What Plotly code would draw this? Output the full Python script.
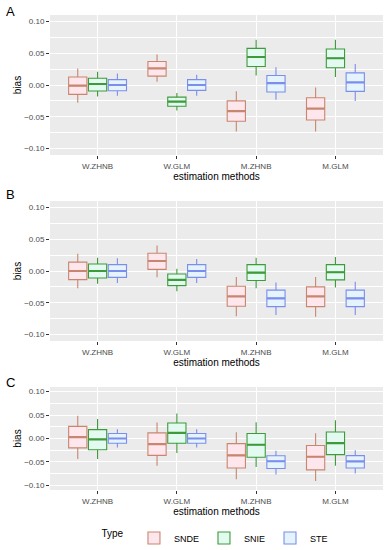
import plotly.graph_objects as go

categories = ["W.ZHNB", "W.GLM", "M.ZHNB", "M.GLM"]
types = ["SNDE", "SNIE", "STE"]

# Panel A stats: lower whisker, q1, median, q3, upper whisker
A_SNDE_low = [-0.028, 0.005, -0.073, -0.073]
A_SNDE_q1 = [-0.0147, 0.014, -0.057, -0.055]
A_SNDE_med = [-0.001, 0.026, -0.041, -0.037]
A_SNDE_q3 = [0.0126, 0.037, -0.025, -0.020]
A_SNDE_up = [0.026, 0.048, -0.010, -0.004]

A_SNIE_low = [-0.018, -0.040, 0.015, 0.0126]
A_SNIE_q1 = [-0.0094, -0.0335, 0.029, 0.027]
A_SNIE_med = [0.0016, -0.026, 0.044, 0.042]
A_SNIE_q3 = [0.0105, -0.019, 0.0576, 0.0565]
A_SNIE_up = [0.021, -0.0126, 0.071, 0.071]

A_STE_low = [-0.017, -0.017, -0.023, -0.025]
A_STE_q1 = [-0.009, -0.0084, -0.011, -0.010]
A_STE_med = [0.0, 0.0, 0.003, 0.004]
A_STE_q3 = [0.0084, 0.0084, 0.015, 0.019]
A_STE_up = [0.018, 0.016, 0.028, 0.033]

# Panel B
B_SNDE_low = [-0.027, -0.010, -0.071, -0.072]
B_SNDE_q1 = [-0.0136, 0.0026, -0.0555, -0.056]
B_SNDE_med = [0.0, 0.0157, -0.040, -0.040]
B_SNDE_q3 = [0.014, 0.028, -0.024, -0.025]
B_SNDE_up = [0.027, 0.040, -0.0094, -0.0094]

B_SNIE_low = [-0.020, -0.032, -0.027, -0.026]
B_SNIE_q1 = [-0.011, -0.023, -0.015, -0.014]
B_SNIE_med = [0.0, -0.014, -0.0026, -0.002]
B_SNIE_q3 = [0.011, -0.0047, 0.010, 0.010]
B_SNIE_up = [0.021, 0.0037, 0.021, 0.022]

B_STE_low = [-0.019, -0.019, -0.069, -0.069]
B_STE_q1 = [-0.010, -0.010, -0.056, -0.056]
B_STE_med = [0.0, 0.0, -0.043, -0.043]
B_STE_q3 = [0.010, 0.010, -0.030, -0.030]
B_STE_up = [0.020, 0.019, -0.018, -0.017]

# Panel C
C_SNDE_low = [-0.044, -0.058, -0.087, -0.091]
C_SNDE_q1 = [-0.020, -0.036, -0.063, -0.067]
C_SNDE_med = [0.003, -0.012, -0.036, -0.039]
C_SNDE_q3 = [0.026, 0.012, -0.011, -0.015]
C_SNDE_up = [0.0486, 0.034, 0.0134, 0.011]

C_SNIE_low = [-0.044, -0.031, -0.061, -0.058]
C_SNIE_q1 = [-0.024, -0.010, -0.040, -0.0345]
C_SNIE_med = [-0.002, 0.012, -0.0134, -0.010]
C_SNIE_q3 = [0.019, 0.033, 0.0106, 0.014]
C_SNIE_up = [0.0415, 0.0535, 0.0345, 0.039]

C_STE_low = [-0.019, -0.019, -0.077, -0.075]
C_STE_q1 = [-0.010, -0.010, -0.064, -0.063]
C_STE_med = [0.0, 0.0, -0.0486, -0.049]
C_STE_q3 = [0.0106, 0.0106, -0.037, -0.0366]
C_STE_up = [0.020, 0.020, -0.026, -0.025]

y_ticks = [-0.10, -0.05, 0.00, 0.05, 0.10]
y_tick_labels = ["\u22120.10", "\u22120.05", "0.00", "0.05", "0.10"]
panel_labels = ["A", "B", "C"]

panels = [
    {
        "SNDE": (A_SNDE_low, A_SNDE_q1, A_SNDE_med, A_SNDE_q3, A_SNDE_up),
        "SNIE": (A_SNIE_low, A_SNIE_q1, A_SNIE_med, A_SNIE_q3, A_SNIE_up),
        "STE": (A_STE_low, A_STE_q1, A_STE_med, A_STE_q3, A_STE_up),
    },
    {
        "SNDE": (B_SNDE_low, B_SNDE_q1, B_SNDE_med, B_SNDE_q3, B_SNDE_up),
        "SNIE": (B_SNIE_low, B_SNIE_q1, B_SNIE_med, B_SNIE_q3, B_SNIE_up),
        "STE": (B_STE_low, B_STE_q1, B_STE_med, B_STE_q3, B_STE_up),
    },
    {
        "SNDE": (C_SNDE_low, C_SNDE_q1, C_SNDE_med, C_SNDE_q3, C_SNDE_up),
        "SNIE": (C_SNIE_low, C_SNIE_q1, C_SNIE_med, C_SNIE_q3, C_SNIE_up),
        "STE": (C_STE_low, C_STE_q1, C_STE_med, C_STE_q3, C_STE_up),
    },
]

line_colors = {"SNDE": "#C9866F", "SNIE": "#3E9A3A", "STE": "#7B8EEB"}
fill_colors = {"SNDE": "#FDE6EC", "SNIE": "#E2FAEF", "STE": "#E5F3FC"}
dodge = {"SNDE": -0.25, "SNIE": 0.0, "STE": 0.25}
BOX_W = 0.23

W, H = 387, 550
x0, x1 = 50 / W, 383 / W
panel_px = [(15, 155), (201, 341), (387, 490)]
label_px = [11, 195, 382]

FONT = "Liberation Sans, Arial, sans-serif"

fig = go.Figure()
for i, panel in enumerate(panels):
    suffix = "" if i == 0 else str(i + 1)
    for t in types:
        low, q1, med, q3, up = panel[t]
        xs = [k + dodge[t] for k in range(len(categories))]
        fig.add_trace(go.Box(
            x=xs, lowerfence=low, q1=q1, median=med, q3=q3, upperfence=up,
            width=BOX_W,
            name=t, legendgroup=t, showlegend=(i == 0),
            line=dict(color=line_colors[t], width=1.1),
            fillcolor=fill_colors[t], whiskerwidth=0,
            boxpoints=False, hoverinfo="skip",
            xaxis="x" + suffix, yaxis="y" + suffix,
        ))
        # thicker median bar (ggplot draws medians heavier)
        fig.add_trace(go.Box(
            x=xs, lowerfence=med, q1=med, median=med, q3=med, upperfence=med,
            width=BOX_W, name=t, legendgroup=t, showlegend=False,
            line=dict(color=line_colors[t], width=2.2),
            fillcolor=line_colors[t], whiskerwidth=0,
            boxpoints=False, hoverinfo="skip",
            xaxis="x" + suffix, yaxis="y" + suffix,
        ))

layout = dict(
    width=W, height=H, autosize=False,
    margin=dict(l=0, r=0, t=0, b=0, autoexpand=False),
    paper_bgcolor="white", plot_bgcolor="#EBEBEB",
    boxmode="overlay",
    font=dict(family=FONT, color="black"),
    showlegend=True,
    legend=dict(
        orientation="h", x=216.5 / W, xanchor="center", y=1 - 538 / H, yanchor="middle",
        title=dict(text="Type ", side="left", font=dict(size=10, color="black")),
        font=dict(size=9, color="black"), itemwidth=30, bgcolor="rgba(0,0,0,0)",
        itemclick=False, itemdoubleclick=False,
    ),
)
annotations = []
for i, (top, bot) in enumerate(panel_px):
    suffix = "" if i == 0 else str(i + 1)
    layout["xaxis" + suffix] = dict(
        domain=[x0, x1], anchor="y" + suffix,
        range=[-0.6, 3.6], tickvals=list(range(len(categories))), ticktext=categories,
        showgrid=True, gridcolor="white", gridwidth=1.1,
        zeroline=False, showline=False,
        ticks="outside", ticklen=3, tickcolor="#333333", tickwidth=1,
        tickfont=dict(size=8, color="#4D4D4D", family=FONT),
        title=dict(text="estimation methods", font=dict(size=10, color="black", family=FONT), standoff=0),
        automargin=False, fixedrange=True,
    )
    layout["yaxis" + suffix] = dict(
        domain=[1 - bot / H, 1 - top / H], anchor="x" + suffix,
        range=[-0.11, 0.11], tickvals=y_ticks, ticktext=y_tick_labels,
        showgrid=True, gridcolor="white", gridwidth=1.1, zeroline=False, showline=False,
        ticks="outside", ticklen=3, tickcolor="#333333", tickwidth=1,
        tickfont=dict(size=8, color="#4D4D4D", family=FONT),
        minor=dict(dtick=0.025, tick0=0, showgrid=True, gridcolor="white", gridwidth=0.5, ticks=""),
        title=dict(text="bias", font=dict(size=10, color="black", family=FONT), standoff=0),
        automargin=False, fixedrange=True,
    )
    annotations.append(dict(
        text=panel_labels[i], xref="paper", yref="paper",
        x=4 / W, xanchor="left", y=1 - label_px[i] / H, yanchor="middle",
        showarrow=False, font=dict(size=13, color="black", family=FONT),
    ))
layout["annotations"] = annotations
fig.update_layout(**layout)

fig.write_html(
    "out.html",
    config={"responsive": False, "displayModeBar": False},
    default_width="387px", default_height="550px",
    post_script="document.body.style.margin='0';document.body.style.overflow='hidden';",
)
